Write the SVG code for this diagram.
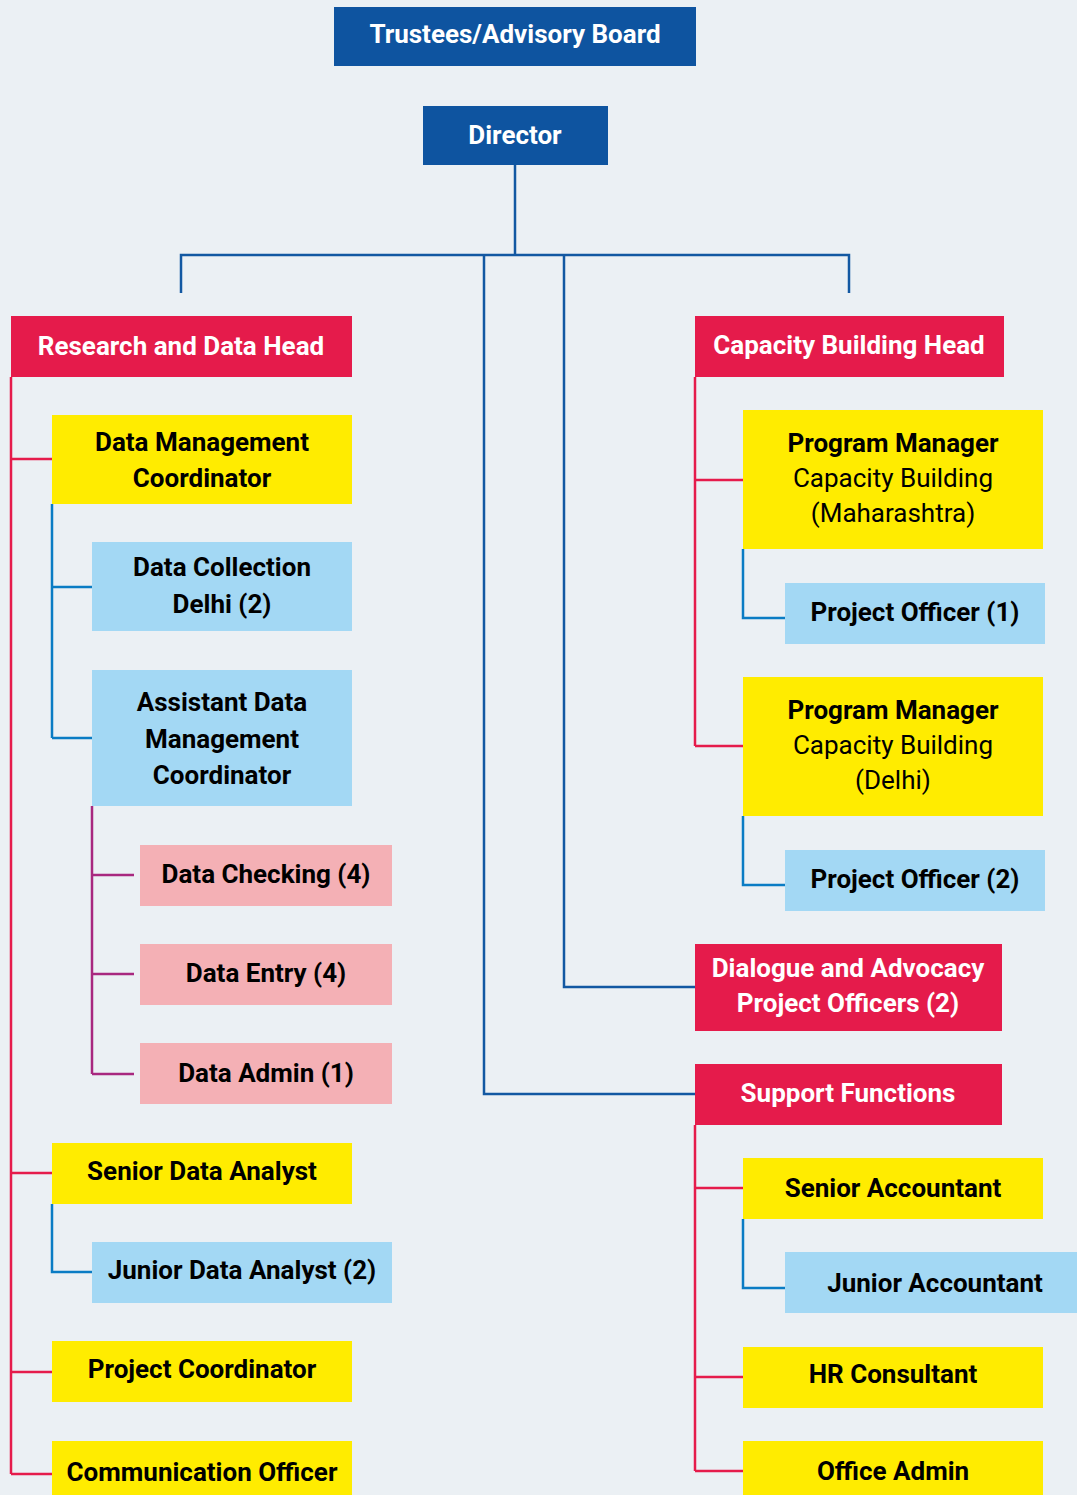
<svg xmlns="http://www.w3.org/2000/svg" width="1077" height="1495" viewBox="0 0 1077 1495">
<style>
.bg{fill:#EBF0F4}
.db{fill:#0E54A0}
.rd{fill:#E51B4B}
.yl{fill:#FFEC00}
.lb{fill:#A3D8F4}
.pk{fill:#F4B0B5}
text{font-family:Roboto,"Liberation Sans",sans-serif;font-size:26px;font-weight:700;text-anchor:middle}
.w{fill:#FFFFFF}
.k{fill:#000000}
.reg{font-weight:400}
.cm{fill:none;stroke:#1258A2;stroke-width:2.5}
.cr{fill:none;stroke:#E51B4B;stroke-width:2.5}
.cb{fill:none;stroke:#0A7CC4;stroke-width:2.5}
.cp{fill:none;stroke:#A8287F;stroke-width:2.5}
</style>
<rect class="bg" x="0" y="0" width="1077" height="1495"/>
<g id="connectors">
<path class="cm" d="M515,165V255M181,293V255H849V293M484,255V1094H695M564,255V987H695"/>
<path class="cr" d="M11,377V1474M11,459H52M11,1173H52M11,1372H52M11,1474H52"/>
<path class="cb" d="M52,504V738M52,587H92M52,738H92M52,1204V1272H92"/>
<path class="cp" d="M92,806V1074M92,875H134M92,974H134M92,1074H134"/>
<path class="cr" d="M695,377V746M695,480H743M695,746H743M695,1125V1471M695,1188H743M695,1377H743M695,1471H743"/>
<path class="cb" d="M743,549V618H785M743,816V885H785M743,1219V1288H785"/>
</g>
<g id="trustees"><rect class="db" x="334" y="7" width="362" height="59"/><text class="w" x="515" y="43">Trustees/Advisory Board</text></g>
<g id="director"><rect class="db" x="423" y="106" width="185" height="59"/><text class="w" x="515" y="144">Director</text></g>
<g id="research-head"><rect class="rd" x="11" y="316" width="341" height="61"/><text class="w" x="181" y="355">Research and Data Head</text></g>
<g id="capacity-head"><rect class="rd" x="695" y="316" width="309" height="61"/><text class="w" x="849" y="354">Capacity Building Head</text></g>
<g id="dmc"><rect class="yl" x="52" y="415" width="300" height="89"/><text class="k" x="202" y="451">Data Management</text><text class="k" x="202" y="487">Coordinator</text></g>
<g id="data-collection"><rect class="lb" x="92" y="542" width="260" height="89"/><text class="k" x="222" y="576">Data Collection</text><text class="k" x="222" y="613">Delhi (2)</text></g>
<g id="admc"><rect class="lb" x="92" y="670" width="260" height="136"/><text class="k" x="222" y="711">Assistant Data</text><text class="k" x="222" y="748">Management</text><text class="k" x="222" y="784">Coordinator</text></g>
<g id="data-checking"><rect class="pk" x="140" y="845" width="252" height="61"/><text class="k" x="266" y="883">Data Checking (4)</text></g>
<g id="data-entry"><rect class="pk" x="140" y="944" width="252" height="61"/><text class="k" x="266" y="982">Data Entry (4)</text></g>
<g id="data-admin"><rect class="pk" x="140" y="1043" width="252" height="61"/><text class="k" x="266" y="1082">Data Admin (1)</text></g>
<g id="senior-data-analyst"><rect class="yl" x="52" y="1143" width="300" height="61"/><text class="k" x="202" y="1180">Senior Data Analyst</text></g>
<g id="junior-data-analyst"><rect class="lb" x="92" y="1242" width="300" height="61"/><text class="k" x="242" y="1279">Junior Data Analyst (2)</text></g>
<g id="project-coordinator"><rect class="yl" x="52" y="1341" width="300" height="61"/><text class="k" x="202" y="1378">Project Coordinator</text></g>
<g id="communication-officer"><rect class="yl" x="52" y="1441" width="300" height="60"/><text class="k" x="202" y="1481">Communication Officer</text></g>
<g id="pm-maharashtra"><rect class="yl" x="743" y="410" width="300" height="139"/><text class="k" x="893" y="452">Program Manager</text><text class="k reg" x="893" y="487">Capacity Building</text><text class="k reg" x="893" y="522">(Maharashtra)</text></g>
<g id="project-officer-1"><rect class="lb" x="785" y="583" width="260" height="61"/><text class="k" x="915" y="621">Project Officer (1)</text></g>
<g id="pm-delhi"><rect class="yl" x="743" y="677" width="300" height="139"/><text class="k" x="893" y="719">Program Manager</text><text class="k reg" x="893" y="754">Capacity Building</text><text class="k reg" x="893" y="789">(Delhi)</text></g>
<g id="project-officer-2"><rect class="lb" x="785" y="850" width="260" height="61"/><text class="k" x="915" y="888">Project Officer (2)</text></g>
<g id="dialogue"><rect class="rd" x="695" y="944" width="307" height="87"/><text class="w" x="848" y="977">Dialogue and Advocacy</text><text class="w" x="848" y="1012">Project Officers (2)</text></g>
<g id="support"><rect class="rd" x="695" y="1064" width="307" height="61"/><text class="w" x="848" y="1102">Support Functions</text></g>
<g id="senior-accountant"><rect class="yl" x="743" y="1158" width="300" height="61"/><text class="k" x="893" y="1197">Senior Accountant</text></g>
<g id="junior-accountant"><rect class="lb" x="785" y="1252" width="300" height="61"/><text class="k" x="935" y="1292">Junior Accountant</text></g>
<g id="hr-consultant"><rect class="yl" x="743" y="1347" width="300" height="61"/><text class="k" x="893" y="1383">HR Consultant</text></g>
<g id="office-admin"><rect class="yl" x="743" y="1441" width="300" height="60"/><text class="k" x="893" y="1480">Office Admin</text></g>
</svg>
